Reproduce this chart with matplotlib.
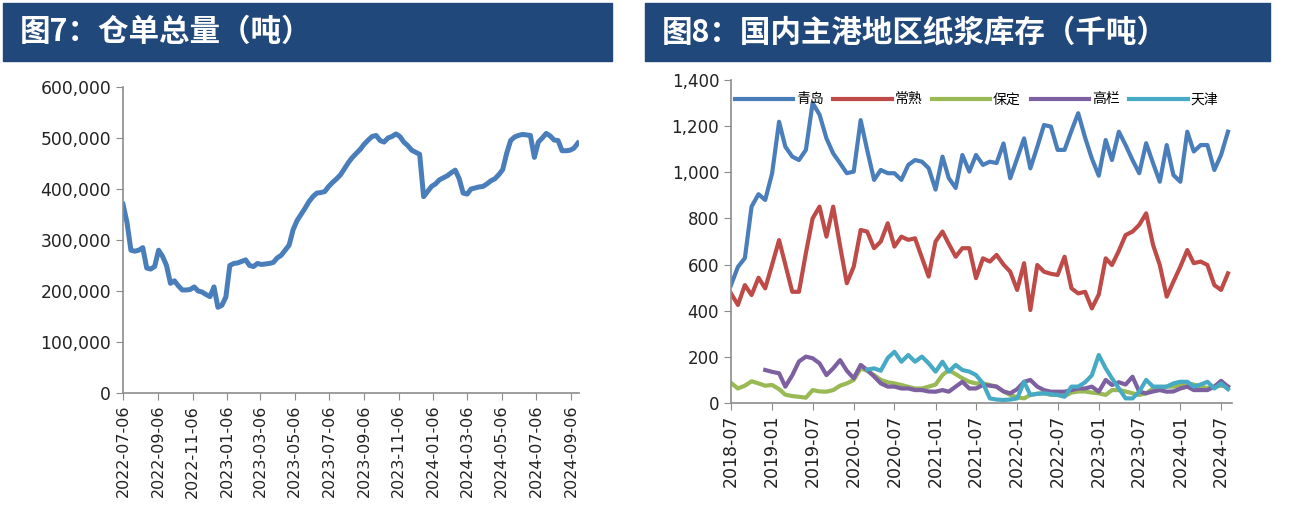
import numpy as np
import pandas as pd
import matplotlib
matplotlib.use("Agg")
import matplotlib.pyplot as plt
from matplotlib.patches import Rectangle
from matplotlib.ticker import FuncFormatter, MultipleLocator

plt.rcParams['font.family'] = ['DejaVu Sans', 'Noto Sans CJK SC']

# 图7 仓单总量（吨），周度
warrant_start = '2022-07-06'
warrant = [370, 335, 280, 278, 280, 285, 245, 243, 248, 280,
           268, 250, 215, 220, 210, 202, 202, 203, 208, 200,
           198, 193, 189, 208, 168, 172, 188, 250, 254, 255,
           258, 261, 250, 248, 254, 252, 253, 254, 256, 265,
           270, 280, 290, 320, 338, 350, 362, 375, 385, 392,
           393, 395, 405, 413, 420, 428, 440, 452, 462, 470,
           478, 488, 496, 503, 505, 495, 492, 500, 503, 508,
           503, 492, 485, 476, 472, 468, 385, 395, 405, 410,
           418, 422, 426, 432, 437, 420, 392, 390, 400, 402,
           404, 405, 410, 416, 420, 428, 438, 470, 495, 502,
           505, 507, 506, 505, 462, 492, 500, 509, 504, 496,
           495, 475, 475, 476, 480, 490]
warrant = np.array(warrant) * 1000

# 图8 国内主港地区纸浆库存（千吨），月度 2018-07 起
port_start = '2018-07-01'
qingdao = [511, 590, 628, 851, 905, 880, 996, 1219, 1111, 1068,
           1053, 1097, 1300, 1250, 1147, 1082, 1039, 996, 1003, 1226,
           1097, 967, 1010, 996, 996, 967, 1032, 1053, 1046, 1018,
           925, 1068, 975, 932, 1075, 1003, 1075, 1032, 1046, 1040,
           1125, 974, 1060, 1147, 1017, 1110, 1205, 1198, 1097, 1097,
           1180, 1256, 1150, 1060, 985, 1140, 1053, 1176, 1118, 1053,
           996, 1126, 1039, 959, 1118, 988, 959, 1176, 1090, 1118,
           1118, 1010, 1075, 1176]
changshu = [475, 425, 511, 468, 543, 497, 600, 706, 600, 482,
            482, 650, 800, 851, 721, 851, 680, 519, 591, 750,
            743, 671, 700, 779, 678, 721, 707, 714, 630, 548,
            700, 743, 690, 634, 671, 671, 541, 627, 613, 642,
            600, 569, 490, 606, 403, 598, 569, 560, 555, 634,
            497, 475, 482, 410, 470, 627, 598, 660, 728, 743,
            772, 822, 685, 598, 461, 526, 591, 663, 606, 613,
            598, 511, 490, 562]
baoding = [87, 63, 75, 94, 85, 75, 78, 60, 36, 30,
           27, 23, 56, 50, 49, 56, 75, 85, 100, 150,
           140, 121, 100, 90, 85, 78, 70, 63, 63, 71,
           80, 121, 143, 125, 107, 92, 85, 85, 78, 71,
           50, 35, 25, 20, 35, 40, 42, 35, 35, 30,
           45, 50, 50, 45, 42, 35, 56, 56, 50, 42,
           35, 42, 63, 63, 71, 71, 78, 85, 80, 71,
           65, 70, 75, 71]
# 高栏 2018-12 起
gaolan = [np.nan] * 5 + [143, 135, 129, 71, 120,
                         180, 201, 194, 172, 121, 150, 186, 140, 107, 165,
                         143, 115, 85, 71, 71, 63, 63, 56, 56, 50,
                         49, 56, 49, 71, 92, 63, 63, 78, 75, 71,
                         50, 42, 60, 92, 100, 71, 56, 49, 49, 49,
                         56, 63, 63, 71, 49, 100, 78, 90, 80, 114,
                         49, 42, 50, 56, 49, 50, 63, 71, 56, 56,
                         56, 71, 96, 71]
# 天津 2020-03 起
tianjin = [np.nan] * 20 + [145, 150, 140, 195, 222, 179, 208, 179, 201, 172,
                           136, 179, 136, 165, 143, 136, 121, 85, 20, 15,
                           13, 15, 20, 92, 35, 40, 42, 38, 35, 27,
                           71, 71, 90, 120, 208, 150, 107, 63, 20, 20,
                           49, 100, 71, 71, 71, 85, 92, 92, 71, 80,
                           92, 63, 85, 60]

names = ['青岛', '常熟', '保定', '高栏', '天津']
series = [qingdao, changshu, baoding, gaolan, tianjin]
colors = ['#4a7ebb', '#be4b48', '#98b954', '#7d60a0', '#46aac5']

W, H = 1298, 520
fig = plt.figure(figsize=(W / 100, H / 100), dpi=100)

navy = '#21487b'
fig.patches.append(Rectangle((3 / W, 1 - 61 / H), 609 / W, 58 / H,
                             transform=fig.transFigure, color=navy, zorder=0))
fig.patches.append(Rectangle((645 / W, 1 - 61 / H), 625 / W, 58 / H,
                             transform=fig.transFigure, color=navy, zorder=0))
fig.text(20 / W, 1 - 32 / H, '图7：仓单总量（吨）', color='white', fontsize=22,
         fontweight='bold', family=['Noto Sans CJK SC', 'DejaVu Sans'], va='center')
fig.text(662 / W, 1 - 32 / H, '图8：国内主港地区纸浆库存（千吨）', color='white', fontsize=22,
         fontweight='bold', family=['Noto Sans CJK SC', 'DejaVu Sans'], va='center')


def style_axes(ax):
    for s in ['top', 'right']:
        ax.spines[s].set_visible(False)
    for s in ['left', 'bottom']:
        ax.spines[s].set_color('#8c8c8c')
        ax.spines[s].set_linewidth(1.2)
    ax.tick_params(direction='out', length=5, color='#8c8c8c', labelcolor='#222222')
    ax.yaxis.set_major_formatter(FuncFormatter(lambda v, p: f'{v:,.0f}'))


# 左图
ax1 = fig.add_axes([123 / W, 1 - 393 / H, (579 - 123) / W, (393 - 87) / H])
d1 = pd.date_range(warrant_start, periods=len(warrant), freq='7D')
ax1.plot(d1, warrant, color='#4a7ebb', lw=3.6, solid_joinstyle='round')
ax1.set_ylim(0, 600000)
ax1.yaxis.set_major_locator(MultipleLocator(100000))
ax1.set_xlim(d1[0], d1[-1] + pd.Timedelta(days=2))
t1 = pd.date_range('2022-07-06', '2024-09-06', freq=pd.DateOffset(months=2))
ax1.set_xticks(t1)
ax1.set_xticklabels([t.strftime('%Y-%m-%d') for t in t1], rotation=90)
style_axes(ax1)
ax1.tick_params(axis='y', labelsize=12.3)
ax1.tick_params(axis='x', labelsize=11.5)

# 右图
ax2 = fig.add_axes([731 / W, 1 - 403 / H, (1232 - 731) / W, (403 - 80) / H])
d2 = pd.date_range(port_start, periods=len(qingdao), freq='MS')
for name, vals, c in zip(names, series, colors):
    ax2.plot(d2, vals, color=c, lw=3.0, label=name, solid_joinstyle='round')
ax2.set_ylim(0, 1400)
ax2.yaxis.set_major_locator(MultipleLocator(200))
ax2.set_xlim(d2[0], d2[-1] + pd.Timedelta(days=18))
t2 = pd.date_range('2018-07-01', '2024-07-01', freq='6MS')
ax2.set_xticks(t2)
ax2.set_xticklabels([t.strftime('%Y-%m') for t in t2], rotation=90)
style_axes(ax2)
ax2.tick_params(axis='y', labelsize=12)
ax2.tick_params(axis='x', labelsize=12.5)
ax2.legend(loc='center', bbox_to_anchor=(0.49, 0.94), ncol=5, frameon=False,
           handlelength=4.2, handletextpad=0.2, columnspacing=0.7,
           prop={'family': ['Noto Sans CJK SC'], 'size': 10})

fig.savefig('out.png', dpi=100, facecolor='white')
